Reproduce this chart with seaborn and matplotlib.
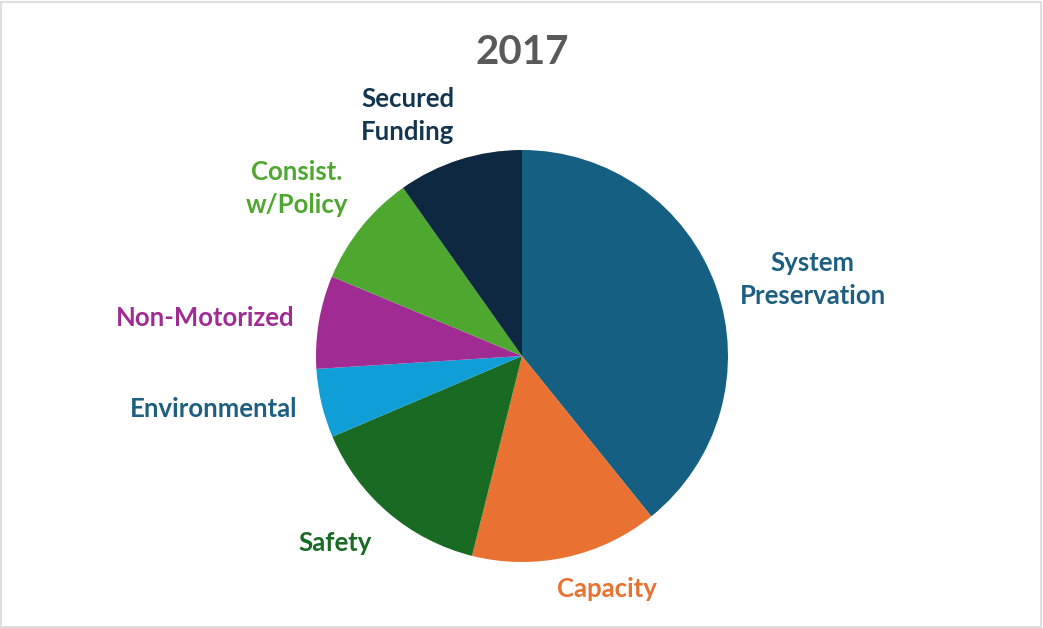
import numpy as np
import matplotlib
matplotlib.use('Agg')
import matplotlib.pyplot as plt
import matplotlib.patches as patches
import seaborn as sns

TITLE = "2017"
categories = ["System\nPreservation", "Capacity", "Safety", "Environmental",
              "Non-Motorized", "Consist.\nw/Policy", "Secured\nFunding"]
shares = [39.2, 14.7, 14.7, 5.4, 7.3, 8.9, 9.8]
slice_colors = ["#156082", "#E97132", "#196B24", "#0F9ED5", "#A02B93", "#4EA72E", "#0E2841"]
label_colors = ["#1D5F80", "#E97132", "#196B24", "#1D5F80", "#A02B93", "#4EA72E", "#123550"]


def main():
    sns.set_theme(style="white")
    plt.rcParams['font.family'] = ['Lato', 'DejaVu Sans']

    fig = plt.figure(figsize=(10.43, 6.28), dpi=100)
    ax = fig.add_axes([0, 0, 1, 1])

    palette = sns.color_palette(slice_colors)
    wedges, _ = ax.pie(shares, colors=palette, startangle=90, counterclock=False,
                       radius=1.0, wedgeprops=dict(linewidth=0))

    # labels placed just outside each wedge, aligned by side like Excel does
    for w, lab, col in zip(wedges, categories, label_colors):
        mid = np.deg2rad((w.theta1 + w.theta2) / 2)
        dx, dy = np.cos(mid), np.sin(mid)
        r = 1.12
        ha = 'left' if dx > 0.05 else ('right' if dx < -0.05 else 'center')
        va = 'top' if dy < -0.5 else ('bottom' if dy > 0.5 else 'center')
        if va == 'bottom':
            r = 1.08
        if lab == "Capacity":
            r = 1.1
            dx -= 0.06
        ax.text(r * dx, r * dy, lab, ha=ha, va=va, multialignment='center',
                color=col, fontsize=18.5, fontweight='bold', linespacing=1.45)

    px = 206.0
    ax.set_xlim(-522 / px, (1043 - 522) / px)
    ax.set_ylim(-(628 - 356) / px, 356 / px)
    ax.set_aspect('equal', adjustable='box')
    ax.axis('off')

    fig.text(0.5005, 1 - 53 / 628, TITLE, ha='center', va='center',
             fontsize=29, fontweight='bold', color='#595959')

    fig.patches.append(patches.Rectangle((0.001, 0.002), 0.997, 0.995, transform=fig.transFigure,
                                         fill=False, edgecolor='#D9D9D9', linewidth=1.2))

    fig.savefig('out.png', dpi=100, facecolor='white')


if __name__ == "__main__":
    main()
